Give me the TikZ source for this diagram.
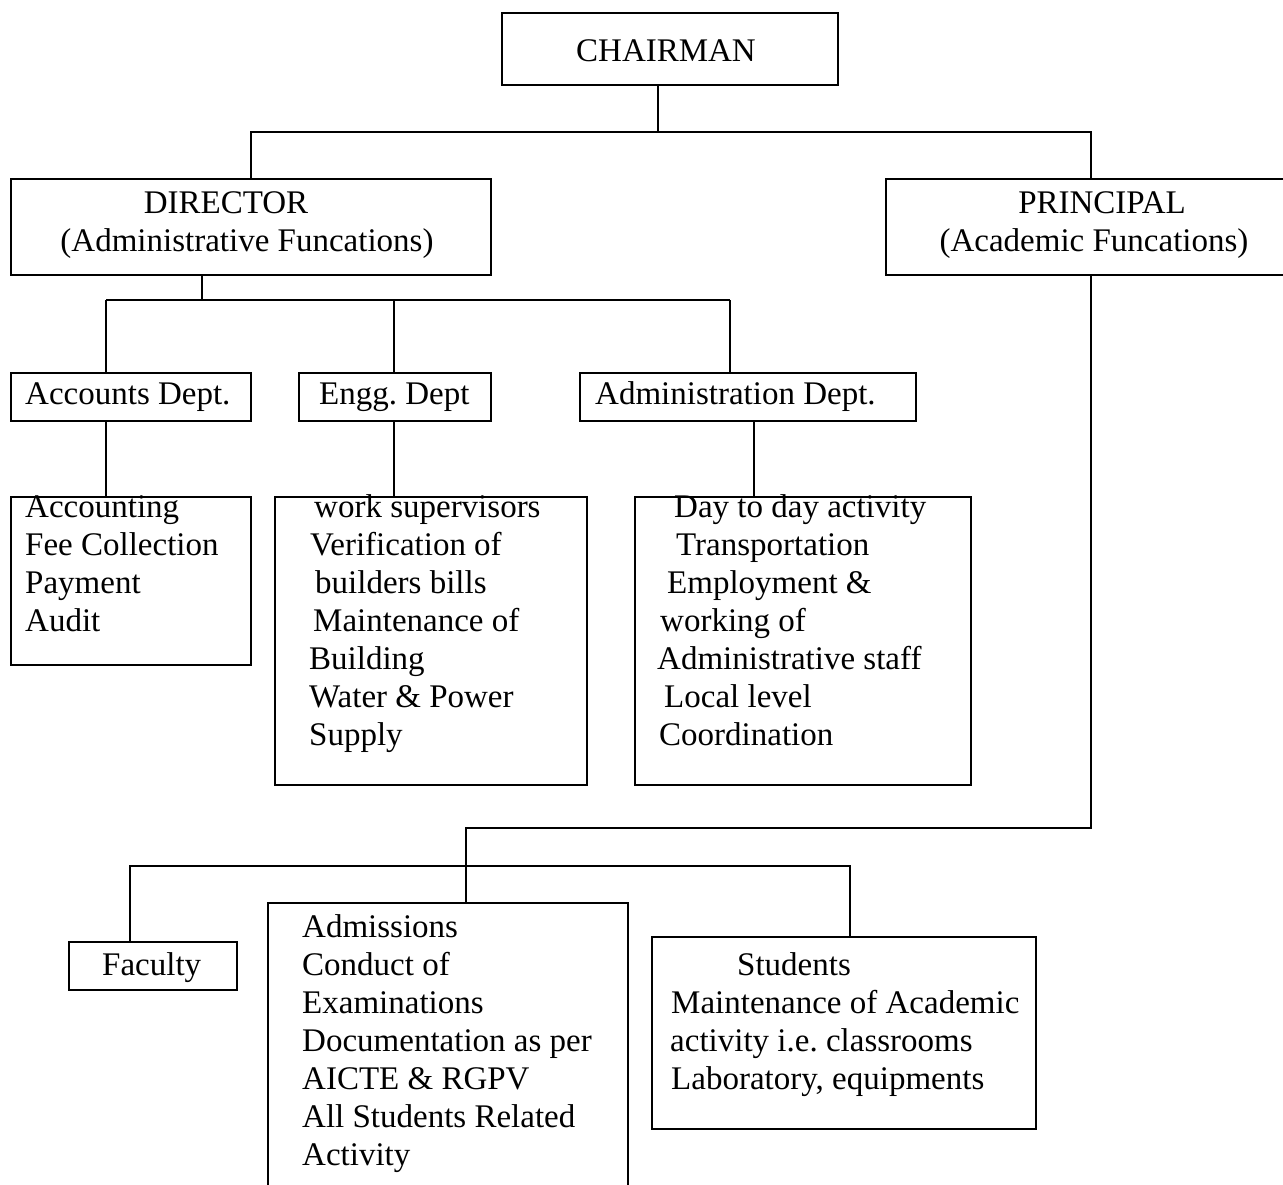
\documentclass[tikz,border=0pt]{standalone}
\usepackage{fontspec}
\setmainfont{Liberation Serif}
\newcommand{\bigfs}{\fontsize{33}{38}\selectfont}
\frenchspacing
\begin{document}
\begin{tikzpicture}[x=1pt,y=-1pt,
  box/.style={draw, line width=1.6pt, inner sep=0pt, anchor=north west},
  txt/.style={inner sep=0pt, anchor=base west, font=\bigfs},
  ctxt/.style={inner sep=0pt, anchor=base, font=\bigfs},
  conn/.style={line width=1.6pt}]
\useasboundingbox (0,0) rectangle (1283,1184);
\clip (0,0) rectangle (1283,1184);
\fill[white] (0,0) rectangle (1283,1184);

% boxes
\node[box, minimum width=336pt, minimum height=72pt] (chair) at (501,12) {};
\node[box, minimum width=480pt, minimum height=96pt] (dir) at (10,178) {};
\node[box, minimum width=410pt, minimum height=96pt] (prin) at (885,178) {};
\node[box, minimum width=240pt, minimum height=48pt] (acc) at (10,372) {};
\node[box, minimum width=192pt, minimum height=48pt] (eng) at (298,372) {};
\node[box, minimum width=336pt, minimum height=48pt] (adm) at (579,372) {};
\node[box, minimum width=240pt, minimum height=168pt] (accsub) at (10,496) {};
\node[box, minimum width=312pt, minimum height=288pt] (engsub) at (274,496) {};
\node[box, minimum width=336pt, minimum height=288pt] (admsub) at (634,496) {};
\node[box, minimum width=168pt, minimum height=48pt] (fac) at (68,941) {};
\node[box, minimum width=360pt, minimum height=310pt] (admis) at (267,902) {};
\node[box, minimum width=384pt, minimum height=192pt] (stu) at (651,936) {};

% texts
\node[ctxt] (tchair) at (666,61) {CHAIRMAN};
\node[ctxt] (tdir1) at (226,213) {DIRECTOR};
\node[ctxt] (tdir2) at (247,251) {(Administrative Funcations)};
\node[ctxt] (tprin1) at (1102,213) {PRINCIPAL};
\node[ctxt] (tprin2) at (1094,251) {(Academic Funcations)};
\node[txt] (tacc) at (25,404) {Accounts Dept.};
\node[txt] (teng) at (319,404) {Engg. Dept};
\node[txt] (tadm) at (595,404) {Administration Dept.};

\node[txt] (a1) at (25,517) {Accounting};
\node[txt] (a2) at (25,555) {Fee Collection};
\node[txt] (a3) at (25,593) {Payment};
\node[txt] (a4) at (25,631) {Audit};

\node[txt] (e1) at (314,517) {work supervisors};
\node[txt] (e2) at (310,555) {Verification of};
\node[txt] (e3) at (315,593) {builders bills};
\node[txt] (e4) at (313,631) {Maintenance of};
\node[txt] (e5) at (309,669) {Building};
\node[txt] (e6) at (309,707) {Water \& Power};
\node[txt] (e7) at (309,745) {Supply};

\node[txt] (m1) at (674,517) {Day to day activity};
\node[txt] (m2) at (676,555) {Transportation};
\node[txt] (m3) at (667,593) {Employment \&};
\node[txt] (m4) at (660,631) {working of};
\node[txt] (m5) at (657,669) {Administrative staff};
\node[txt] (m6) at (664,707) {Local level};
\node[txt] (m7) at (659,745) {Coordination};

\node[txt] (tfac) at (102,975) {Faculty};

\node[txt] (d1) at (302,937) {Admissions};
\node[txt] (d2) at (302,975) {Conduct of};
\node[txt] (d3) at (302,1013) {Examinations};
\node[txt] (d4) at (302,1051) {Documentation as per};
\node[txt] (d5) at (302,1089) {AICTE \& RGPV};
\node[txt] (d6) at (302,1127) {All Students Related};
\node[txt] (d7) at (302,1165) {Activity};

\node[txt] (s1) at (737,975) {Students};
\node[txt] (s2) at (671,1013) {Maintenance of Academic};
\node[txt] (s3) at (670,1051) {activity i.e. classrooms};
\node[txt] (s4) at (671,1089) {Laboratory, equipments};

% junction coordinates
\coordinate (cj) at (658,132);
\coordinate (dj) at (202,300);
\coordinate (da) at (106,300);
\coordinate (de) at (394,300);
\coordinate (dm) at (730,300);
\coordinate (mx) at (754,450);
\coordinate (pk) at (466,828);
\coordinate (bl) at (130,866);
\coordinate (br) at (850,866);

% connectors
\draw[conn] (chair.south -| cj) -- (cj);
\draw[conn] (dir.north) |- (cj) -| (prin.north);
\draw[conn] (dir.south -| dj) -- (dj);
\draw[conn] (da) -- (dm);
\draw[conn] (da) -- (da |- acc.north);
\draw[conn] (de) -- (de |- eng.north);
\draw[conn] (dm) -- (dm |- adm.north);
\draw[conn] (acc.south -| da) -- (da |- accsub.north);
\draw[conn] (eng.south -| de) -- (de |- engsub.north);
\draw[conn] (adm.south -| mx) -- (mx |- admsub.north);
\draw[conn] (prin.south) |- (pk) -- (pk |- admis.north);
\draw[conn] (fac.north -| bl) |- (br) -- (br |- stu.north);
\end{tikzpicture}
\end{document}
